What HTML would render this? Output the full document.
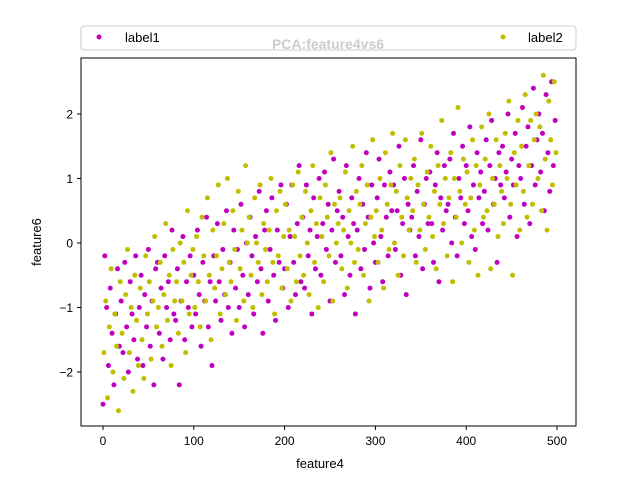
<!DOCTYPE html>
<html><head><meta charset="utf-8"><style>
body{margin:0;background:#fff;font-family:"Liberation Sans","DejaVu Sans",sans-serif}
</style></head><body>
<svg id="chart" width="640" height="480" viewBox="0 0 640 480" font-family="Liberation Sans, DejaVu Sans, sans-serif">
<rect width="640" height="480" fill="#fff"/>
<g id="marks"></g>
<rect x="81" y="58" width="495" height="368" fill="none" stroke="#000" stroke-width="1"/>
<g id="axes"></g>
<text x="320" y="468" font-size="13" text-anchor="middle">feature4</text>
<text transform="translate(41,242) rotate(-90)" font-size="13" text-anchor="middle">feature6</text>
<g>
<rect x="81" y="26" width="495" height="24" rx="3" fill="#fff" fill-opacity="0.8" stroke="#ccc"/>
<g><circle cx="99" cy="37" r="2.5" fill="#bf00bf"/><text x="125" y="42" font-size="13">label1</text></g>
<g><circle cx="503" cy="37" r="2.5" fill="#bfbf00"/><text x="528" y="42" font-size="13">label2</text></g>
</g>
<text x="328" y="49" font-size="14" font-weight="bold" text-anchor="middle" fill="#cccccc">PCA:feature4vs6</text>
</svg>
<script>
const xTicks=[0,100,200,300,400,500];
const yTicks=[-2,-1,0,1,2];
const label1Y=[-2.5,-0.2,-1.0,-1.9,-0.7,-1.4,-2.2,-1.1,-0.4,-1.6,
-0.9,-1.7,-0.3,-1.3,-2.0,-0.6,-1.1,-1.5,-0.2,-1.8,
-1.0,-0.5,-1.9,-0.8,-1.3,-0.1,-1.6,-0.9,-2.2,-0.4,
-0.3,-1.4,-0.7,-1.8,-0.2,-1.0,-0.6,-1.5,0.2,-1.1,
-1.2,-0.4,-2.2,-0.9,0.1,-1.5,-0.6,-1.0,-0.2,-1.3,
-0.5,-1.1,0.2,-0.8,-1.6,-0.3,-0.9,0.4,-1.3,-0.6,
-1.9,-0.2,-0.9,0.3,-0.6,-1.2,-0.1,-0.8,0.5,-1.0,
-0.3,-1.4,0.2,-0.7,-0.1,-1.0,0.6,-0.5,-1.3,0.0,
-0.8,0.4,-0.2,-1.1,0.1,-0.6,0.8,-0.4,-1.4,0.2,
0.5,-0.9,-0.1,0.7,-0.5,-1.2,0.2,-0.3,0.9,-0.7,
-0.4,0.6,-1.0,0.1,0.9,-0.3,-0.8,0.3,1.2,-0.6,
0.4,-0.7,0.9,-0.2,0.2,-1.1,0.7,-0.4,0.1,1.0,
-0.5,0.3,1.1,-0.1,0.6,-0.9,0.2,1.3,-0.3,0.5,
0.8,-0.2,0.4,-0.8,1.2,0.1,-0.5,0.7,0.3,-1.1,
0.2,1.0,-0.4,0.6,-0.1,1.4,0.4,-0.7,0.9,0.0,
-0.3,0.7,1.3,0.1,-0.6,0.9,0.4,-0.2,1.1,0.5,
0.9,-0.1,0.5,1.5,-0.5,0.3,1.0,-0.8,0.6,0.2,
0.4,1.2,-0.2,0.8,0.1,1.6,-0.4,0.6,1.0,0.3,
1.1,0.3,-0.3,0.9,1.4,-0.6,0.7,0.2,1.2,0.5,
0.6,1.3,0.0,1.7,0.4,-0.2,1.0,0.7,1.5,0.3,
1.2,0.5,1.8,0.1,0.9,-0.1,1.4,0.7,1.1,0.3,
0.8,1.6,0.2,1.2,1.9,0.6,1.0,-0.3,1.4,0.9,
1.5,0.7,1.1,2.0,0.4,1.3,0.9,1.7,0.1,1.2,
1.0,2.1,0.6,1.5,1.8,0.3,1.2,2.4,0.9,1.6,
2.0,1.1,1.7,0.5,2.3,1.4,0.8,2.5,1.2,1.9];
const label2Y=[-1.7,-0.9,-2.4,-1.3,-0.4,-2.0,-1.1,-1.6,-2.6,-0.6,
-1.4,-2.1,-0.8,-0.1,-1.7,-1.0,-2.3,-0.5,-1.2,-1.9,
-0.7,-1.5,-2.1,-0.2,-1.1,-0.6,-1.8,-0.9,0.1,-1.3,
-1.0,-0.3,-1.6,-0.8,0.3,-1.2,-0.5,-1.9,-0.1,-0.9,
-0.6,-1.4,0.0,-0.9,-0.3,-1.7,0.5,-1.1,-0.5,-0.1,
-1.0,0.1,-0.6,-1.3,0.4,-0.2,-0.9,0.7,-0.5,-1.5,
0.2,-0.7,-0.2,0.9,-1.1,-0.4,0.3,-0.8,1.0,-0.3,
-0.6,0.5,-0.1,-1.2,0.8,-0.4,0.2,-0.9,1.2,0.0,
0.4,-0.5,-1.0,0.7,0.0,-0.3,0.9,-0.8,0.3,-0.1,
-0.6,0.2,1.0,-0.3,-1.1,0.5,-0.2,0.8,-0.7,0.1,
0.6,-0.4,0.2,-0.9,0.9,0.1,-0.6,1.1,-0.2,0.4,
-0.5,0.8,0.0,-0.8,0.5,1.2,-0.3,0.3,-1.0,0.7,
0.1,-0.6,0.9,0.4,-0.2,1.4,-0.9,0.6,0.0,0.3,
0.7,-0.4,0.2,1.1,-0.7,0.5,0.0,1.5,-0.3,0.8,
-0.1,0.6,1.2,-0.5,0.3,0.9,-0.9,0.4,1.6,0.1,
0.5,-0.3,1.0,0.2,-0.7,1.4,0.6,-0.1,0.9,1.7,
0.0,0.8,-0.5,1.2,0.4,-0.2,1.6,0.7,0.2,1.0,
0.5,1.3,-0.3,0.9,0.2,1.7,0.6,-0.1,1.1,0.4,
1.5,0.1,0.8,-0.4,1.2,0.6,1.9,0.3,1.0,-0.2,
0.7,1.4,-0.6,1.0,0.4,2.1,0.8,0.0,1.3,0.6,
1.1,-0.3,0.7,1.6,0.2,1.2,-0.5,0.9,1.8,0.4,
1.3,0.5,2.0,-0.4,1.0,0.6,1.6,0.1,1.2,0.8,
0.3,1.7,1.0,2.2,0.6,-0.5,1.4,0.9,1.9,0.2,
1.5,0.8,2.3,0.4,1.2,1.9,0.6,1.6,2.0,1.0,
1.8,0.5,2.6,1.3,0.2,2.2,1.6,0.9,2.5,1.4];
const label1X=label1Y.map((v,i)=>i*2);
const label2X=label2Y.map((v,i)=>i*2+1);

const NS="http://www.w3.org/2000/svg";
function sx(v){return 103+v*(557-103)/500;}
function sy(v){return 243-v*64.5;}
const marks=document.getElementById('marks');
const axes=document.getElementById('axes');
function mk(tag,attrs,parent){const e=document.createElementNS(NS,tag);for(const k in attrs)e.setAttribute(k,attrs[k]);parent.appendChild(e);return e;}
function series(xs,ys,color,name){
  const g=mk('g',{},marks);
  
  
  ys.forEach((y,i)=>{
    const c=mk('circle',{cx:sx(xs[i]),cy:sy(y),r:2.5,fill:color},g);
    
    
  });
}
series(label1X,label1Y,'#bf00bf','label1-series');
series(label2X,label2Y,'#bfbf00','label2-series');
xTicks.forEach(t=>{
  const g=mk('g',{},axes);
  
  
  mk('line',{x1:sx(t),x2:sx(t),y1:426,y2:430,stroke:'#000'},g);
  const tx=mk('text',{x:sx(t),y:445,'font-size':12,'text-anchor':'middle'},g);tx.textContent=t;
});
yTicks.forEach(t=>{
  const g=mk('g',{},axes);
  
  
  mk('line',{x1:77,x2:81,y1:sy(t),y2:sy(t),stroke:'#000'},g);
  const tx=mk('text',{x:73,y:sy(t)+4.5,'font-size':12,'text-anchor':'end'},g);tx.textContent=(t<0?'\u2212'+(-t):t);
});
</script>
</body></html>
